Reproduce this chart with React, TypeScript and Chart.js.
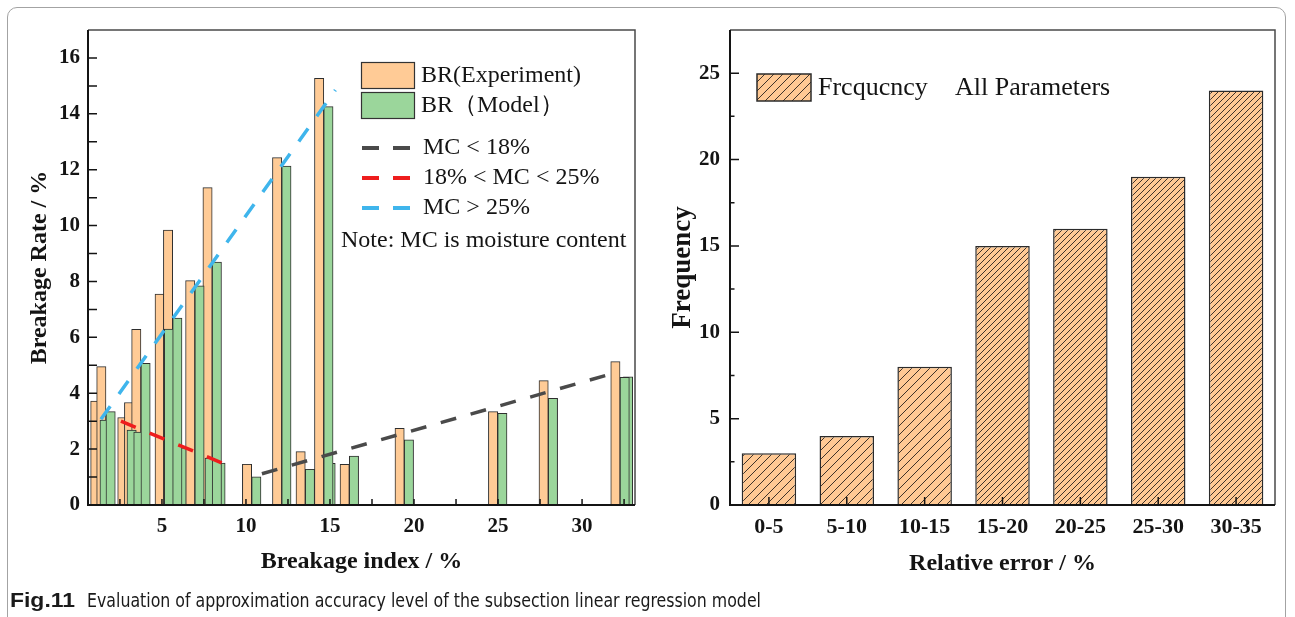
import React, { useEffect, useLayoutEffect, useRef } from 'react';
import { Chart, registerables } from 'chart.js';

Chart.register(...registerables);

const SERIF = "'Liberation Serif', 'Times New Roman', Times, serif";
const INK = '#141414';
const ORANGE = '#ffcb96';
const GREEN = '#9bd69b';
const EDGE = '#2e2e2e';

// ---- Left panel: breakage rate, experiment vs. subsection regression model ----
// Each sample: breakage index (%), measured breakage rate (%), modelled breakage rate (%)
const breakageIndex = [1.31, 1.67, 2.92, 3.32, 3.75, 5.14, 5.89, 5.64, 6.96, 7.56, 8.21, 7.99, 10.34, 12.13, 13.53, 14.76, 14.63, 16.15, 19.42, 24.98, 27.99, 32.46, 32.26];
const brExperiment = [3.72, 4.95, 3.13, 3.67, 6.29, 7.55, 2.2, 9.84, 8.03, 1.9, 1.55, 11.36, 1.46, 12.43, 1.91, 1.55, 15.27, 1.46, 2.74, 3.34, 4.45, 4.4, 5.13];
const brModel = [3.04, 3.34, 2.68, 2.61, 5.07, 6.3, 2.05, 6.69, 7.84, 1.68, 1.5, 8.69, 1.01, 12.13, 1.28, 1.49, 14.26, 1.75, 2.33, 3.28, 3.82, 4.59, 4.57];

// Regression trend of each moisture-content band: [breakage index, breakage rate] end points
const trendMcLow: [number, number][] = [[10.95, 1.12], [32.02, 4.74]];
const trendMcMid: [number, number][] = [[2.56, 3.0], [8.75, 1.46]];
const trendMcHigh: [number, number][] = [[1.37, 3.07], [15.32, 14.85]];

const rateTicks = [0, 2, 4, 6, 8, 10, 12, 14, 16];
const indexTicks = [5, 10, 15, 20, 25, 30];

// ---- Right panel: distribution of the relative error ----
const errorBins = ['0-5', '5-10', '10-15', '15-20', '20-25', '25-30', '30-35'];
const frequency = [3, 4, 8, 15, 16, 19, 24];
const frequencyTicks = [0, 5, 10, 15, 20, 25];

const tickFont = (size: number) => ({ family: SERIF, size, weight: 'bold' as const, lineHeight: 1 });

type TickSet = { values: number[]; len: number };

// Box around the plot area with inward tick marks (left and bottom axes)
function axisFrame(yTicks: TickSet[], xTicks: TickSet[]) {
  return {
    id: 'axisFrame',
    afterDraw(chart: any) {
      const { ctx, chartArea: a, scales } = chart;
      ctx.save();
      ctx.strokeStyle = '#4a4a4a';
      ctx.lineWidth = 1.5;
      ctx.beginPath();
      ctx.moveTo(a.left, a.top);
      ctx.lineTo(a.right, a.top);
      ctx.lineTo(a.right, a.bottom);
      ctx.stroke();

      ctx.strokeStyle = INK;
      ctx.lineWidth = 1.5;
      ctx.beginPath();
      for (const set of yTicks) {
        for (const v of set.values) {
          const y = scales.y.getPixelForValue(v);
          ctx.moveTo(a.left, y);
          ctx.lineTo(a.left + set.len, y);
        }
      }
      for (const set of xTicks) {
        for (const v of set.values) {
          const x = scales.x.getPixelForValue(v);
          ctx.moveTo(x, a.bottom);
          ctx.lineTo(x, a.bottom - set.len);
        }
      }
      ctx.stroke();

      ctx.lineWidth = 2;
      ctx.beginPath();
      ctx.moveTo(a.left, a.top);
      ctx.lineTo(a.left, a.bottom);
      ctx.lineTo(a.right, a.bottom);
      ctx.stroke();
      ctx.restore();
    },
  };
}

// The model bars sit to the right of the experiment bars but are painted over them
const paintExperimentFirst = {
  id: 'paintExperimentFirst',
  beforeDatasetDraw(chart: any, args: any) {
    if (args.index === 1) {
      const { ctx, chartArea: a } = chart;
      ctx.save();
      ctx.beginPath();
      ctx.rect(a.left, a.top, a.right - a.left, a.bottom - a.top);
      ctx.clip();
      chart.getDatasetMeta(0).controller.draw();
      ctx.restore();
    }
    if (args.index === 0) return false;
    return undefined;
  },
};

const leftLegend = {
  id: 'leftLegend',
  afterDraw(chart: any) {
    const { ctx } = chart;
    const ds = chart.data.datasets;
    ctx.save();
    ctx.font = `24px ${SERIF}`;
    ctx.textBaseline = 'middle';
    ctx.textAlign = 'left';
    [0, 1].forEach((k) => {
      const top = 62 + k * 30;
      ctx.fillStyle = ds[k].backgroundColor;
      ctx.fillRect(361, top, 53, 26);
      ctx.strokeStyle = '#333';
      ctx.lineWidth = 1.2;
      ctx.strokeRect(361.5, top + 0.5, 53, 26);
      ctx.fillStyle = INK;
      ctx.fillText(ds[k].label, 421, top + 14);
    });
    [2, 3, 4].forEach((k, j) => {
      const y = 148 + j * 30;
      ctx.strokeStyle = ds[k].borderColor;
      ctx.lineWidth = 4;
      ctx.setLineDash([17, 14]);
      ctx.beginPath();
      ctx.moveTo(362, y);
      ctx.lineTo(410, y);
      ctx.stroke();
      ctx.setLineDash([]);
      ctx.fillStyle = INK;
      ctx.fillText(ds[k].label, 423, y);
    });
    ctx.fillText('Note: MC is moisture content', 341, 241);
    ctx.restore();
  },
};

function trendDataset(label: string, pts: [number, number][], color: string) {
  return {
    type: 'line' as const,
    label,
    data: pts.map(([x, y]) => ({ x, y })),
    borderColor: color,
    borderWidth: 3.5,
    borderDash: [16, 15],
    borderCapStyle: 'butt' as const,
    pointRadius: 0,
    fill: false,
    order: -1,
  };
}

function leftConfig(): any {
  return {
    type: 'bar',
    data: {
      datasets: [
        {
          label: 'BR(Experiment)',
          data: breakageIndex.map((x, i) => ({ x, y: brExperiment[i] })),
          backgroundColor: ORANGE,
          borderColor: EDGE,
          borderWidth: 1,
          barThickness: 9.3,
        },
        {
          label: 'BR（Model）',
          data: breakageIndex.map((x, i) => ({ x, y: brModel[i] })),
          backgroundColor: GREEN,
          borderColor: EDGE,
          borderWidth: 1,
          barThickness: 9.3,
        },
        trendDataset('MC < 18%', trendMcLow, '#4a4a4a'),
        trendDataset('18% < MC < 25%', trendMcMid, '#ee1d1d'),
        trendDataset('MC > 25%', trendMcHigh, '#3fb5ec'),
      ],
    },
    options: {
      responsive: false,
      animation: false,
      layout: { padding: { left: 0, top: 30, right: 15, bottom: 0 } },
      plugins: { legend: { display: false }, tooltip: { enabled: false } },
      scales: {
        x: {
          type: 'linear',
          min: 0.6,
          max: 33.15,
          offset: false,
          grid: { display: false, drawTicks: false },
          border: { display: false },
          afterBuildTicks: (s: any) => {
            s.ticks = indexTicks.map((value) => ({ value }));
          },
          ticks: { font: tickFont(21), color: INK, padding: 11, autoSkip: false, maxRotation: 0 },
          title: {
            display: true,
            text: 'Breakage index / %',
            font: tickFont(24),
            color: INK,
            padding: { top: 0, bottom: 16 },
          },
          afterFit: (s: any) => {
            s.height = 85;
          },
        },
        y: {
          min: 0,
          max: 17,
          grid: { display: false, drawTicks: false },
          border: { display: false },
          afterBuildTicks: (s: any) => {
            s.ticks = rateTicks.map((value) => ({ value }));
          },
          ticks: { font: tickFont(21), color: INK, padding: 8 },
          title: {
            display: true,
            text: 'Breakage Rate / %',
            font: tickFont(24),
            color: INK,
            padding: { top: 28, bottom: 0 },
          },
          afterFit: (s: any) => {
            s.width = 88;
          },
        },
      },
    },
    plugins: [
      paintExperimentFirst,
      axisFrame(
        [
          { values: rateTicks, len: 9 },
          { values: rateTicks.slice(0, -1).map((v) => v + 1), len: 9 },
        ],
        [{ values: [...indexTicks.map((v) => v - 2.5), 32.5].concat(indexTicks), len: 6 }],
      ),
      leftLegend,
    ],
  };
}

// Diagonal hatch on the light-orange fill
function hatch(gap: number): CanvasPattern | string {
  const c = document.createElement('canvas');
  c.width = gap;
  c.height = gap;
  const g = c.getContext('2d');
  if (!g) return ORANGE;
  g.fillStyle = '#ffc994';
  g.fillRect(0, 0, gap, gap);
  g.strokeStyle = '#3f3329';
  g.lineWidth = 1;
  g.beginPath();
  g.moveTo(-1, gap + 1);
  g.lineTo(gap + 1, -1);
  g.moveTo(-1, 1);
  g.lineTo(1, -1);
  g.moveTo(gap - 1, gap + 1);
  g.lineTo(gap + 1, gap - 1);
  g.stroke();
  return g.createPattern(c, 'repeat') || ORANGE;
}

function rightConfig(): any {
  const wide = hatch(9);
  const dense = hatch(6);
  const legend = {
    id: 'rightLegend',
    afterDraw(chart: any) {
      const { ctx } = chart;
      ctx.save();
      ctx.fillStyle = wide;
      ctx.fillRect(107, 74, 54, 27);
      ctx.strokeStyle = '#2b2b2b';
      ctx.lineWidth = 1.5;
      ctx.strokeRect(107, 74, 54, 27);
      ctx.font = `26px ${SERIF}`;
      ctx.fillStyle = INK;
      ctx.textBaseline = 'middle';
      ctx.textAlign = 'left';
      ctx.fillText(chart.data.datasets[0].label, 168, 88);
      ctx.fillText('All Parameters', 305, 88);
      ctx.restore();
    },
  };
  return {
    type: 'bar',
    data: {
      labels: errorBins,
      datasets: [
        {
          label: 'Frcqucncy',
          data: frequency,
          backgroundColor: (c: any) => (c.dataIndex < 3 ? wide : dense),
          borderColor: '#2b2b2b',
          borderWidth: 1.5,
          barPercentage: 0.7,
          categoryPercentage: 1,
        },
      ],
    },
    options: {
      responsive: false,
      animation: false,
      layout: { padding: { left: 0, top: 30, right: 20, bottom: 0 } },
      plugins: { legend: { display: false }, tooltip: { enabled: false } },
      scales: {
        x: {
          type: 'category',
          offset: true,
          grid: { display: false, drawTicks: false },
          border: { display: false },
          ticks: { font: tickFont(22), color: INK, padding: 11, autoSkip: false, maxRotation: 0 },
          title: {
            display: true,
            text: 'Relative error / %',
            font: tickFont(24),
            color: INK,
            padding: { top: 0, bottom: 14 },
          },
          afterFit: (s: any) => {
            s.height = 85;
          },
        },
        y: {
          min: 0,
          max: 27.5,
          grid: { display: false, drawTicks: false },
          border: { display: false },
          afterBuildTicks: (s: any) => {
            s.ticks = frequencyTicks.map((value) => ({ value }));
          },
          ticks: { font: tickFont(21), color: INK, padding: 10 },
          title: {
            display: true,
            text: 'Frequency',
            font: tickFont(27),
            color: INK,
            padding: { top: 20, bottom: 0 },
          },
          afterFit: (s: any) => {
            s.width = 80;
          },
        },
      },
    },
    plugins: [
      axisFrame(
        [
          { values: frequencyTicks, len: 9 },
          { values: frequencyTicks.slice(0, -1).map((v) => v + 2.5), len: 4.5 },
        ],
        [{ values: errorBins.map((_, i) => i), len: 8 }],
      ),
      legend,
    ],
  };
}

function fitWidth(el: HTMLElement | null, target: number) {
  if (!el) return;
  el.style.transform = 'none';
  const w = el.getBoundingClientRect().width;
  if (w > 0) el.style.transform = `scaleX(${target / w})`;
}

export default function App() {
  const leftRef = useRef<HTMLCanvasElement>(null);
  const rightRef = useRef<HTMLCanvasElement>(null);
  const figRef = useRef<HTMLSpanElement>(null);
  const capRef = useRef<HTMLSpanElement>(null);

  useEffect(() => {
    if (!leftRef.current) return;
    const chart = new Chart(leftRef.current, leftConfig());
    return () => chart.destroy();
  }, []);

  useEffect(() => {
    if (!rightRef.current) return;
    const chart = new Chart(rightRef.current, rightConfig());
    return () => chart.destroy();
  }, []);

  useLayoutEffect(() => {
    fitWidth(figRef.current, 65);
    fitWidth(capRef.current, 674);
  }, []);

  const captionBase: React.CSSProperties = {
    position: 'absolute',
    top: 590,
    display: 'inline-block',
    whiteSpace: 'nowrap',
    fontSize: 20,
    lineHeight: '20px',
    color: '#1a1a1a',
    transformOrigin: 'left center',
  };

  return (
    <div style={{ position: 'fixed', left: 0, top: 0, width: 1295, height: 617, background: '#fff', overflow: 'hidden' }}>
      <div
        style={{
          position: 'absolute',
          left: 7,
          top: 7,
          width: 1279,
          height: 660,
          border: '1px solid #a3a3a3',
          borderRadius: 10,
          boxSizing: 'border-box',
        }}
      />
      <canvas ref={leftRef} width={650} height={590} style={{ position: 'absolute', left: 0, top: 0, width: 650, height: 590 }} />
      <canvas ref={rightRef} width={645} height={590} style={{ position: 'absolute', left: 650, top: 0, width: 645, height: 590 }} />
      <span ref={figRef} style={{ ...captionBase, left: 10, fontFamily: "'Liberation Sans', Arial, sans-serif", fontWeight: 'bold' }}>
        Fig.11
      </span>
      <span ref={capRef} style={{ ...captionBase, left: 87, fontFamily: "'Liberation Sans Narrow', 'DejaVu Sans Condensed', 'Liberation Sans', sans-serif" }}>
        Evaluation of approximation accuracy level of the subsection linear regression model
      </span>
    </div>
  );
}
